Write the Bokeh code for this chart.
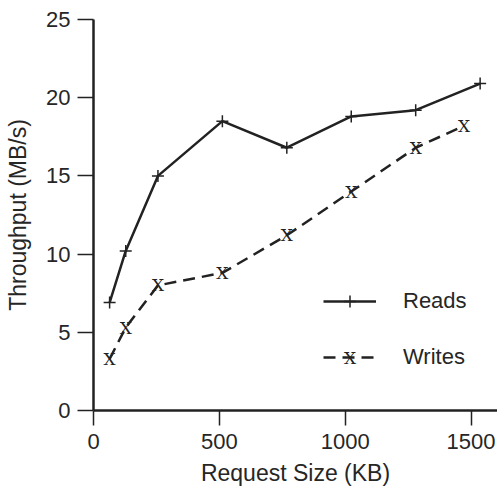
from bokeh.plotting import figure
from bokeh.models import Range1d, Legend, LegendItem, ColumnDataSource, FixedTicker, Label
from bokeh.core.properties import value
from bokeh.embed import file_html
from bokeh.resources import INLINE

# ---- data ----
read_sizes = [64, 128, 256, 512, 768, 1024, 1280, 1536]
read_mbps = [6.9, 10.2, 15.0, 18.5, 16.8, 18.8, 19.2, 20.9]
write_sizes = [64, 128, 256, 512, 768, 1024, 1280, 1472]
write_mbps = [3.3, 5.3, 8.0, 8.8, 11.2, 14.0, 16.8, 18.2]
x_ticks = [0, 500, 1000, 1500]
y_ticks = [0, 5, 10, 15, 20, 25]
series_names = ["Reads", "Writes"]
x_label = "Request Size (KB)"
y_label = "Throughput (MB/s)"

INK = "#222222"
TXT = "#262626"
FONT = "Liberation Sans"
MARK_FONT = "DejaVu Serif"
MARK_SIZE = "17px"

reads_src = ColumnDataSource(dict(x=read_sizes, y=read_mbps))
writes_src = ColumnDataSource(dict(x=write_sizes, y=write_mbps, m=["X"] * len(write_sizes)))

p = figure(width=497, height=493,
           x_range=Range1d(0, 1605), y_range=Range1d(0, 25),
           output_backend="svg", toolbar_location=None,
           min_border_left=93, min_border_right=0,
           min_border_top=19, min_border_bottom=83)
p.grid.visible = False
p.outline_line_color = None
p.background_fill_color = "white"
p.border_fill_color = "white"

# axes
for ax in (p.xaxis[0], p.yaxis[0]):
    ax.axis_line_width = 2.5
    ax.axis_line_color = INK
    ax.major_tick_line_width = 1.5
    ax.major_tick_line_color = INK
    ax.major_tick_in = 0
    ax.minor_tick_line_color = None
    ax.major_label_text_font = FONT
    ax.major_label_text_font_size = "22px"
    ax.major_label_text_color = TXT
    ax.axis_label_text_font = FONT
    ax.axis_label_text_font_style = "normal"
    ax.axis_label_text_color = TXT

p.xaxis.ticker = FixedTicker(ticks=x_ticks)
p.yaxis.ticker = FixedTicker(ticks=y_ticks)
p.xaxis.major_tick_out = 15
p.yaxis.major_tick_out = 16
p.xaxis.major_label_standoff = 8
p.yaxis.major_label_standoff = 7
p.xaxis.axis_label = x_label
p.yaxis.axis_label = y_label
p.xaxis.axis_label_text_font_size = "23px"
p.yaxis.axis_label_text_font_size = "23px"
p.xaxis.axis_label_standoff = 8
p.yaxis.axis_label_standoff = 12

# series
r_line = p.line("x", "y", source=reads_src, line_color=INK, line_width=2.5)
r_mark = p.scatter("x", "y", source=reads_src, marker="cross", size=12,
                   line_color=INK, line_width=1.5)
w_line = p.line("x", "y", source=writes_src, line_color=INK, line_width=2.5,
                line_dash="12 7")
w_mark = p.text("x", "y", text="m", source=writes_src,
                text_font=value(MARK_FONT), text_font_size=MARK_SIZE,
                text_align="center", text_baseline="middle", text_color=INK)

LEG_X, LEG_Y, GW, GH, SP = 230, 38, 53, 30, 26
legend = Legend(items=[
    LegendItem(label=series_names[0], renderers=[r_line, r_mark]),
    LegendItem(label=series_names[1], renderers=[w_line, w_mark]),
], location=(LEG_X, LEG_Y))
legend.border_line_color = None
legend.background_fill_alpha = 0
legend.padding = 0
legend.margin = 0
legend.spacing = SP
legend.glyph_width = GW
legend.glyph_height = GH
legend.label_height = GH
legend.label_standoff = 27
legend.label_text_font = FONT
legend.label_text_font_size = "22px"
legend.label_text_color = TXT
p.add_layout(legend)

# marker sample for the Writes legend entry (text glyphs have no legend sample)
p.add_layout(Label(x=LEG_X + GW / 2, y=LEG_Y + GH / 2, x_units="screen", y_units="screen",
                   text="X", text_font=MARK_FONT, text_font_size=MARK_SIZE,
                   text_align="center", text_baseline="middle", text_color=INK))

open("out.html", "w").write(file_html(p, INLINE))
